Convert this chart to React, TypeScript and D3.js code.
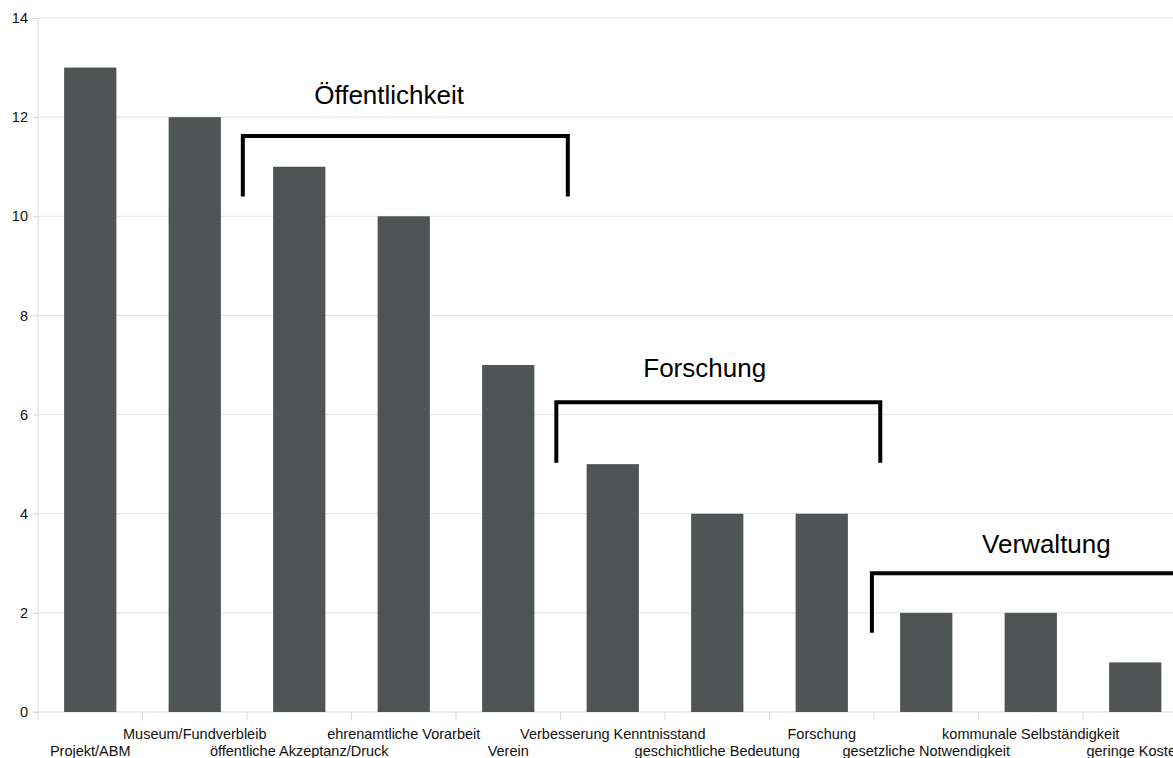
import * as d3 from "d3";
import { useRef, useEffect } from "react";

// categories and counts
const categories = [
  "Projekt/ABM",
  "Museum/Fundverbleib",
  "öffentliche Akzeptanz/Druck",
  "ehrenamtliche Vorarbeit",
  "Verein",
  "Verbesserung Kenntnisstand",
  "geschichtliche Bedeutung",
  "Forschung",
  "gesetzliche Notwendigkeit",
  "kommunale Selbständigkeit",
  "geringe Kosten",
];
const values = [13, 12, 11, 10, 7, 5, 4, 4, 2, 2, 1];
const yTicks = [0, 2, 4, 6, 8, 10, 12, 14];

// bracket annotations (start/end in category units, top/bottom in value units)
const groupLabels = ["Öffentlichkeit", "Forschung", "Verwaltung"];
const groupStart = [1.96, 4.96, 7.98];
const groupEnd = [5.07, 8.06, 11.3];
const groupTop = [11.62, 6.25, 2.8];
const groupBottom = [10.4, 5.03, 1.6];
const groupLabelX = [3.36, 6.38, 9.65];
const groupLabelY = [12.27, 6.76, 3.2];

const width = 1173;
const height = 758;
const marginLeft = 38;
const marginTop = 18;
const marginBottom = 46;
const bandWidth = 104.5;

export default function App() {
  const gx = useRef<SVGGElement | null>(null);
  const gy = useRef<SVGGElement | null>(null);

  const x = d3
    .scaleBand<string>()
    .domain(categories)
    .range([marginLeft, marginLeft + bandWidth * categories.length])
    .paddingInner(0.5)
    .paddingOuter(0.25);

  // linear helper for annotation positions along the category axis
  const xc = d3.scaleLinear([0, categories.length], [marginLeft, marginLeft + bandWidth * categories.length]);

  const y = d3.scaleLinear([0, 14], [height - marginBottom, marginTop]);

  useEffect(() => {
    if (gy.current) {
      const g = d3.select(gy.current);
      g.selectAll("*").remove();
      g.call(d3.axisLeft(y).tickValues(yTicks).tickSize(5).tickPadding(5).tickFormat(d3.format("d")));
      g.select(".domain").attr("stroke", "#d8d8d8").attr("d", `M-5,${y(0)}H0V${y(14)}`);
      g.selectAll(".tick line").attr("stroke", "#d8d8d8");
      g.selectAll(".tick text")
        .attr("fill", "#111")
        .attr("font-size", 14.5)
        .attr("font-family", "Liberation Sans, Arial, sans-serif");
    }
  }, []);

  useEffect(() => {
    if (gx.current) {
      const g = d3.select(gx.current);
      g.selectAll("*").remove();
      // boundary ticks between categories
      g.selectAll("line.b")
        .data(d3.range(categories.length + 1))
        .join("line")
        .attr("x1", (i) => xc(i))
        .attr("x2", (i) => xc(i))
        .attr("y1", 0)
        .attr("y2", 8)
        .attr("stroke", "#d8d8d8");
      g.append("line")
        .attr("x1", marginLeft)
        .attr("x2", width)
        .attr("y1", 0)
        .attr("y2", 0)
        .attr("stroke", "#d8d8d8");
      g.selectAll("text")
        .data(categories)
        .join("text")
        .attr("x", (d) => (x(d) ?? 0) + x.bandwidth() / 2)
        .attr("y", (_, i) => (i % 2 === 1 ? 27 : 44))
        .attr("text-anchor", "middle")
        .attr("font-size", 14.5)
        .attr("font-family", "Liberation Sans, Arial, sans-serif")
        .attr("fill", "#111")
        .text((d) => d);
    }
  }, []);

  return (
    <svg
      width={width}
      height={height}
      style={{ position: "absolute", left: 0, top: 0, background: "#fff" }}
    >
      {/* gridlines */}
      <g stroke="#e4e4e4" strokeWidth={1}>
        {yTicks.filter((t) => t > 0).map((t) => (
          <line key={t} x1={marginLeft} x2={width} y1={y(t)} y2={y(t)} />
        ))}
      </g>

      <g ref={gy} transform={`translate(${marginLeft},0)`} />
      <g ref={gx} transform={`translate(0,${height - marginBottom})`} />

      {/* bars */}
      <g fill="#505454">
        {categories.map((c, i) => (
          <rect
            key={c}
            x={x(c)}
            y={y(values[i])}
            width={x.bandwidth()}
            height={y(0) - y(values[i])}
          />
        ))}
      </g>

      {/* brackets */}
      <g fill="none" stroke="#000" strokeWidth={4} strokeLinejoin="miter">
        {groupLabels.map((g, i) => (
          <path
            key={g}
            d={`M${xc(groupStart[i])},${y(groupBottom[i])}V${y(groupTop[i])}H${xc(groupEnd[i])}V${y(groupBottom[i])}`}
          />
        ))}
      </g>
      <g fontFamily="Liberation Sans, Arial, sans-serif" fontSize={26} fill="#000" textAnchor="middle">
        {groupLabels.map((g, i) => (
          <text key={g} x={xc(groupLabelX[i])} y={y(groupLabelY[i])}>
            {g}
          </text>
        ))}
      </g>
    </svg>
  );
}
